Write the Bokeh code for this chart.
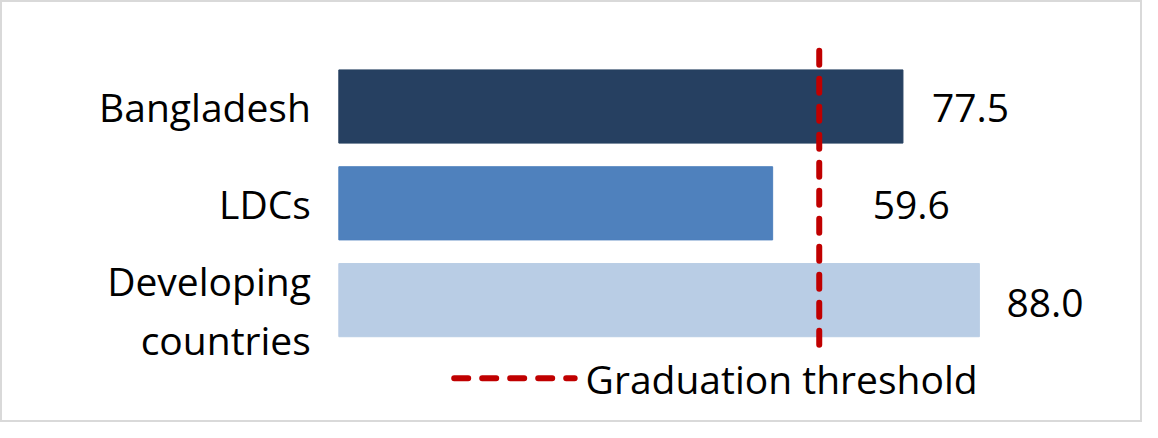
from bokeh.plotting import figure
from bokeh.models import ColumnDataSource, Range1d
from bokeh.core.properties import value
from bokeh.embed import file_html
from bokeh.resources import INLINE

# ---- data ----
categories = ["Bangladesh", "LDCs", "Developing\ncountries"]
values = [77.5, 59.6, 88.0]
value_labels = ["77.5", "59.6", "88.0"]
threshold = 66.0
threshold_label = "Graduation threshold"

# ---- styles ----
bar_colors = ["#264061", "#4F81BD", "#B9CDE5"]
label_x_offsets = [29, 100, 27]
label_y_offsets = [1, 2, 3]
cat_y_offsets = [0, 0, 10]
red = "#C00000"
FONT = "Open Sans"
FS = "39px"

W, H = 1142, 422
p = figure(width=W, height=H, output_backend="svg", toolbar_location=None,
           x_axis_type=None, y_axis_type=None, min_border=0,
           x_range=Range1d(-46.48, 110.41), y_range=Range1d(3.264, -1.095))
p.xgrid.visible = False
p.ygrid.visible = False
p.outline_line_color = "#D9D9D9"
p.outline_line_width = 3
p.background_fill_color = "white"
p.border_fill_color = "white"

ys = list(range(len(categories)))
src = ColumnDataSource(dict(y=ys, v=values, color=bar_colors, lab=value_labels,
                            cat=categories, xo=label_x_offsets, yo=label_y_offsets,
                            cyo=cat_y_offsets, zero=[0] * len(values)))

p.hbar(y="y", left=0, right="v", height=0.756, color="color", source=src)

# threshold line
p.line(x=[threshold, threshold], y=[-0.577, len(categories) - 0.432],
       line_color=red, line_width=6, line_dash="14 14", line_cap="round")

# value labels
p.text(x="v", y="y", text="lab", x_offset="xo", y_offset="yo", source=src,
       text_font=value(FONT), text_font_size=FS, text_align="left",
       text_baseline="middle", text_color="black")

# category labels
p.text(x="zero", y="y", text="cat", x_offset=-28, y_offset="cyo", source=src,
       text_font=value(FONT), text_font_size=FS, text_align="right",
       text_baseline="middle", text_color="black", text_line_height=1.1)

# legend
ly = len(categories) - 0.193
p.line(x=[15.85, 32.4], y=[ly, ly], line_color=red, line_width=6,
       line_dash="14 14", line_cap="round")
p.text(x=[33.9], y=[ly], text=[threshold_label], text_font=value(FONT),
       text_font_size=FS, text_align="left", text_baseline="middle",
       text_color="black")

open("out.html", "w").write(file_html(p, INLINE))
